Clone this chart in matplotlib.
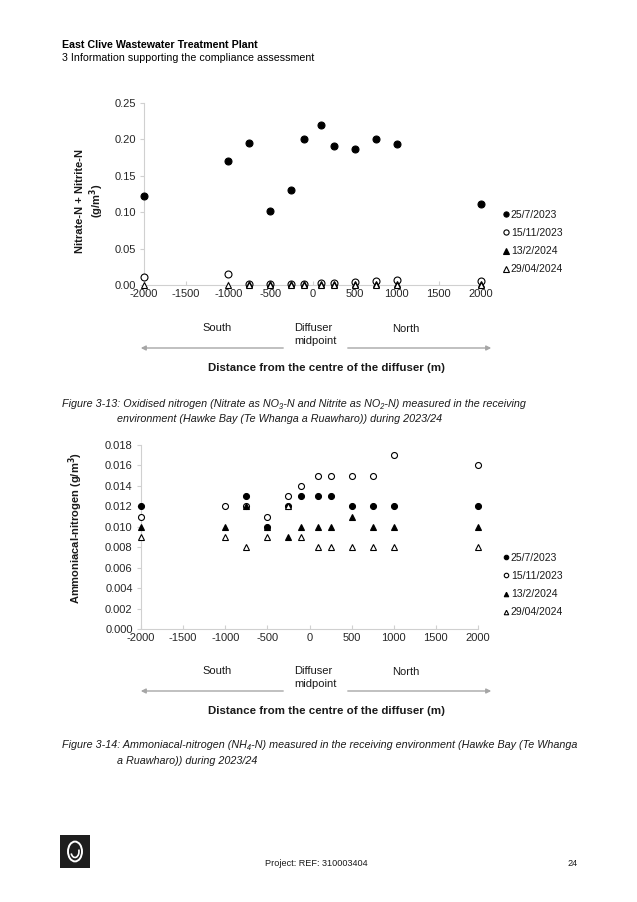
import numpy as np
import matplotlib
matplotlib.use("Agg")
import matplotlib.pyplot as plt
from matplotlib.patches import FancyArrowPatch, Rectangle, Circle, Arc

plt.rcParams['font.family'] = ['Liberation Sans', 'DejaVu Sans']

W, H = 637, 902
nan = np.nan

# ---- data ----
distance = [-2000, -1000, -750, -500, -250, -100, 100, 250, 500, 750, 1000, 2000]
dates = ['25/7/2023', '15/11/2023', '13/2/2024', '29/04/2024']

nox_jul = [0.122, 0.171, 0.195, 0.102, 0.131, 0.200, 0.220, 0.191, 0.187, 0.200, 0.194, 0.111]
nox_nov = [0.011, 0.015, 0.001, 0.001, 0.002, 0.002, 0.003, 0.003, 0.004, 0.005, 0.007, 0.006]
nox_feb = [nan, nan, 0.001, 0.001, 0.001, 0.001, 0.001, 0.001, 0.001, 0.001, 0.001, 0.001]
nox_apr = [0.000, 0.000, 0.000, 0.000, 0.000, 0.000, 0.000, 0.000, 0.000, 0.000, 0.000, 0.000]

nh_jul = [0.012, nan, 0.013, 0.010, 0.012, 0.013, 0.013, 0.013, 0.012, 0.012, 0.012, 0.012]
nh_nov = [0.011, 0.012, 0.012, 0.011, 0.013, 0.014, 0.015, 0.015, 0.015, 0.015, 0.017, 0.016]
nh_feb = [0.010, 0.010, 0.012, 0.010, 0.009, 0.010, 0.010, 0.010, 0.011, 0.010, 0.010, 0.010]
nh_apr = [0.009, 0.009, 0.008, 0.009, 0.012, 0.009, 0.008, 0.008, 0.008, 0.008, 0.008, 0.008]

x_ticks = [-2000, -1500, -1000, -500, 0, 500, 1000, 1500, 2000]
nox_ticks = [0.00, 0.05, 0.10, 0.15, 0.20, 0.25]
nh_ticks = [0.000, 0.002, 0.004, 0.006, 0.008, 0.010, 0.012, 0.014, 0.016, 0.018]

fig = plt.figure(figsize=(W / 100, H / 100), dpi=100)
fig.patch.set_facecolor('white')


def fx(x):
    return x / W


def fy(y):
    return 1 - y / H


def axes_px(l, t, r, b):
    return fig.add_axes([fx(l), fy(b), (r - l) / W, (b - t) / H])


styles = [
    dict(marker='o', mfc='black', mec='black'),
    dict(marker='o', mfc='white', mec='black'),
    dict(marker='^', mfc='black', mec='black'),
    dict(marker='^', mfc='white', mec='black'),
]


def style_axes(ax, ylim, yticks, yfmt, legend_top):
    ax.set_xlim(-2000, 2000)
    ax.set_ylim(*ylim)
    ax.set_xticks(x_ticks)
    ax.set_xticklabels([str(v) for v in x_ticks])
    ax.set_yticks(yticks)
    ax.set_yticklabels([yfmt.format(v) for v in yticks])
    for s in ['top', 'right']:
        ax.spines[s].set_visible(False)
    for s in ['left', 'bottom']:
        ax.spines[s].set_color('#d0d0d0')
        ax.spines[s].set_linewidth(0.8)
    ax.tick_params(axis='both', colors='#d0d0d0', labelcolor='#262626',
                   labelsize=8, length=3, width=0.8)
    ax.tick_params(axis='x', direction='in', pad=3)
    ax.tick_params(axis='y', direction='out', pad=3)
    leg = ax.legend(loc='upper left', bbox_to_anchor=(fx(503), fy(legend_top)),
                    bbox_transform=fig.transFigure, frameon=False, fontsize=7.5,
                    handlelength=0.5, handletextpad=0.25, labelspacing=0.78,
                    borderpad=0, borderaxespad=0, markerscale=0.75)
    for t in leg.get_texts():
        t.set_color('#1a1a1a')


# ---- chart 1 ----
ax1 = axes_px(144, 103, 481, 285)
for vals, st, lab in zip([nox_jul, nox_nov, nox_feb, nox_apr], styles, dates):
    ax1.plot(distance, vals, linestyle='none', ms=5, mew=0.8, label=lab,
             clip_on=False, zorder=3, **st)
style_axes(ax1, (0, 0.25), nox_ticks, '{:.2f}', 210)

# ---- chart 2 ----
ax2 = axes_px(141, 445, 478, 629)
for vals, st, lab in zip([nh_jul, nh_nov, nh_feb, nh_apr], styles, dates):
    ax2.plot(distance, vals, linestyle='none', ms=4.3, mew=0.8, label=lab,
             clip_on=False, zorder=3, **st)
style_axes(ax2, (0, 0.018), nh_ticks, '{:.3f}', 553)

# ---- text ----
fig.text(fx(62), fy(45), 'East Clive Wastewater Treatment Plant', fontsize=7.7,
         fontweight='bold', va='center', ha='left', color='black')
fig.text(fx(62), fy(58), '3 Information supporting the compliance assessment',
         fontsize=7.7, va='center', ha='left', color='black')

# y labels
fig.text(fx(80), fy(201), 'Nitrate-N + Nitrite-N', rotation=90, fontsize=8,
         fontweight='bold', ha='center', va='center', color='#1a1a1a')
fig.text(fx(97), fy(201), '(g/m$^{\\mathbf{3}}$)', rotation=90, fontsize=8,
         fontweight='bold', ha='center', va='center', color='#1a1a1a')
fig.text(fx(76), fy(528), 'Ammoniacal-nitrogen (g/m$^{\\mathbf{3}}$)', rotation=90,
         fontsize=8, fontweight='bold', ha='center', va='center', color='#1a1a1a')


def direction_block(y0):
    fig.text(fx(217), fy(y0), 'South', fontsize=8, ha='center', va='center', color='#1a1a1a')
    fig.text(fx(294), fy(y0), 'Diffuser', fontsize=8, ha='left', va='center', color='#1a1a1a')
    fig.text(fx(294), fy(y0 + 13), 'midpoint', fontsize=8, ha='left', va='center', color='#1a1a1a')
    fig.text(fx(406), fy(y0 + 1), 'North', fontsize=8, ha='center', va='center', color='#1a1a1a')
    ya = y0 + 20
    for a, b in [((286, ya), (138, ya)), ((345, ya), (494, ya))]:
        arr = FancyArrowPatch((fx(a[0]), fy(a[1])), (fx(b[0]), fy(b[1])),
                              transform=fig.transFigure, arrowstyle='-|>',
                              mutation_scale=7, color='#a6a6a6', lw=1.0)
        fig.add_artist(arr)
    fig.text(fx(327), fy(y0 + 40), 'Distance from the centre of the diffuser (m)',
             fontsize=8.25, fontweight='bold', ha='center', va='center', color='#1a1a1a')


direction_block(328)
direction_block(671)

cap_kw = dict(fontsize=7.75, style='italic', ha='left', va='center', color='#1a1a1a')
fig.text(fx(62), fy(404), 'Figure 3-13: Oxidised nitrogen (Nitrate as NO\u2083-N and Nitrite as NO\u2082-N) measured in the receiving', **cap_kw)
fig.text(fx(117), fy(419), 'environment (Hawke Bay (Te Whanga a Ruawharo)) during 2023/24', **cap_kw)
fig.text(fx(62), fy(745), 'Figure 3-14: Ammoniacal-nitrogen (NH\u2084-N) measured in the receiving environment (Hawke Bay (Te Whanga', **cap_kw)
fig.text(fx(117), fy(761), 'a Ruawharo)) during 2023/24', **cap_kw)

# footer logo
fig.add_artist(Rectangle((fx(60), fy(868)), 30 / W, 33 / H, transform=fig.transFigure,
                         facecolor='#1e1e1e', edgecolor='none'))
fig.add_artist(Circle((fx(75), fy(851.5)), 7 / W, transform=fig.transFigure,
                      facecolor='none', edgecolor='white', lw=1.4))
fig.add_artist(Arc((fx(75), fy(851.5)), 8 / W, 12 / H, theta1=200, theta2=20,
                   transform=fig.transFigure, color='white', lw=1.2))
fig.text(fx(265), fy(863), 'Project: REF: 310003404', fontsize=6.6, ha='left',
         va='center', color='#1a1a1a')
fig.text(fx(567), fy(863), '24', fontsize=6.6, ha='left', va='center', color='#1a1a1a')

fig.savefig('out.png', dpi=100, facecolor='white')
